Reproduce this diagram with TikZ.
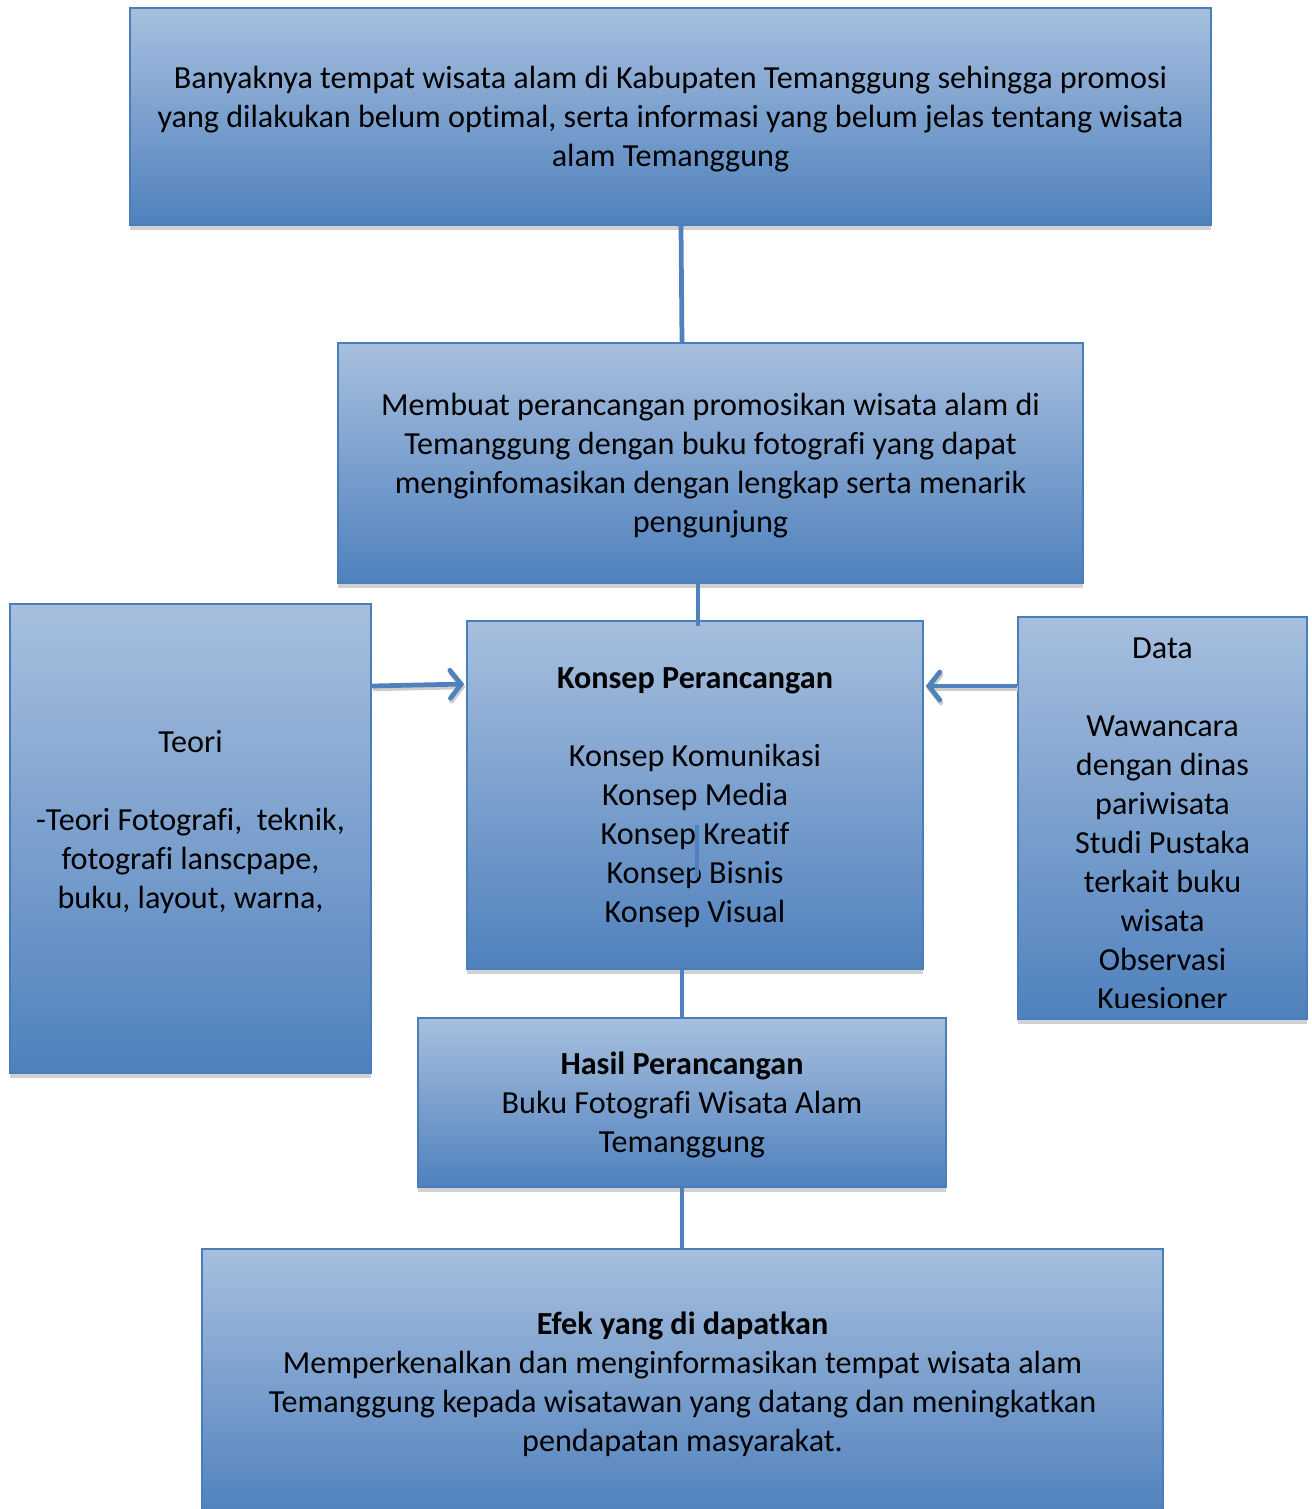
\documentclass[tikz,border=0pt]{standalone}
\usepackage{fontspec}
\setmainfont{Carlito}[Ligatures=NoCommon]
\usetikzlibrary{
	arrows.meta,
	calc,
	positioning,
	shadows,
}
\definecolor{boxtop}{HTML}{A7BFDE}
\definecolor{boxbottom}{HTML}{4F81BD}
\definecolor{boxline}{HTML}{4A7EBB}
\definecolor{linkblue}{HTML}{4F81BD}
\newcommand{\dropstrut}{\rule{0pt}{15.3pt}}
\tikzset{box/.style={
	draw=boxline,
	line width=1pt,
	rectangle,
	top color=boxtop,
	bottom color=boxbottom,
	inner sep=0mm,
	align=center,
	font=\fontsize{18.3}{22.2}\selectfont,
	drop shadow={shadow xshift=0pt, shadow yshift=-0.1cm, fill=black!18, opacity=1},
}}
\tikzset{boxsize/.style 2 args={
	minimum width=#1,
	minimum height=#2,
}}
\tikzset{txt/.style={
	draw=none,
	inner sep=0mm,
	align=center,
	font=\fontsize{18.3}{22.2}\selectfont,
}}
\tikzset{link/.style={
	draw=linkblue,
	line width=2.7pt,
}}
\tikzset{link arrow/.style={
	link,
	-{Straight Barb[length=2.2mm, width=5.6mm, line cap=round]},
	preaction={draw=black!20, line width=2.7pt, transform canvas={shift={(0.6pt,-1.6pt)}}, -{Straight Barb[length=2.2mm, width=5.6mm, line cap=round]}},
}}

\begin{document}
\begin{tikzpicture}[x=0.02cm, y=-0.02cm]

\useasboundingbox (0,0) rectangle (1312,1509);

\node[box, boxsize={21.62cm}{4.34cm}](top) at (670.5,116.5)
{\dropstrut Banyaknya tempat wisata alam di Kabupaten Temanggung sehingga promosi\\
yang dilakukan belum optimal, serta informasi yang belum jelas tentang wisata\\
alam Temanggung};

\node[box, boxsize={14.9cm}{4.8cm}](aim) at (710.5,463)
{\dropstrut Membuat perancangan promosikan wisata alam di\\
Temanggung dengan buku fotografi yang dapat\\
menginfomasikan dengan lengkap serta menarik\\
pengunjung};

\node[box, boxsize={9.12cm}{6.96cm}](konsep) at (695,795)
{\dropstrut\textbf{Konsep Perancangan}\\[22.2pt]
Konsep Komunikasi\\
Konsep Media\\
Konsep Kreatif\\
Konsep Bisnis\\
Konsep Visual};

\node[box, boxsize={7.22cm}{9.38cm}](teori) at (190.5,838.5)
{Teori\\[22.2pt]
-Teori Fotografi,~~teknik,\\
fotografi lanscpape,\\
buku, layout, warna,\\
\mbox{}};

\node[box, boxsize={5.78cm}{8.04cm}](data) at (1162.5,818) {};

\node[box, boxsize={10.56cm}{3.38cm}](hasil) at (682,1102.5)
{\dropstrut\textbf{Hasil Perancangan}\\
Buku Fotografi Wisata Alam\\
Temanggung};

\node[box, boxsize={19.22cm}{5.34cm}](efek) at (682.5,1382.5)
{\dropstrut\textbf{Efek yang di dapatkan}\\
Memperkenalkan dan menginformasikan tempat wisata alam\\
Temanggung kepada wisatawan yang datang dan meningkatkan\\
pendapatan masyarakat.};

% data text, cut off by its box
\begin{scope}
\clip ([shift={(1,-12)}]data.south west) rectangle ([shift={(-1,1)}]data.north east);
\node[txt](datatext) at ([shift={(0,6)}]data.center)
{Data\\[22.2pt]
Wawancara\\
dengan dinas\\
pariwisata\\
Studi Pustaka\\
terkait buku\\
wisata\\
Observasi\\
Kuesioner};
\end{scope}

% top -> aim
\draw[link] ([shift={(10.5,0)}]top.south) -- ([shift={(-28.5,0)}]aim.north);

% aim -> konsep
\draw[link] ([shift={(-12.5,0)}]aim.south) -- ([shift={(3,6)}]konsep.north);
\draw[link] ([shift={(2,30)}]konsep.center) -- ([shift={(2,82)}]konsep.center);

% teori -> konsep
\draw[link arrow] ([shift={(0,-152.5)}]teori.east) -- ([shift={(-2,-111)}]konsep.west);

% data -> konsep
\draw[link arrow] ([shift={(0,-132)}]data.west) -- ([shift={(2,-109)}]konsep.east);

% konsep -> hasil -> efek
\draw[link] ([shift={(-13,0)}]konsep.south) -- (hasil.north);
\draw[link] (hasil.south) -- ([shift={(-0.5,0)}]efek.north);

\end{tikzpicture}
\end{document}
